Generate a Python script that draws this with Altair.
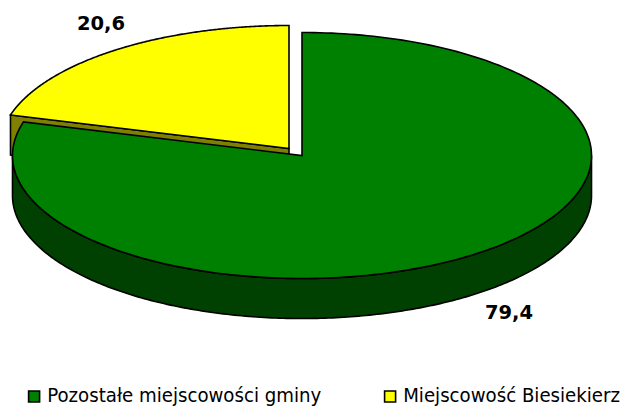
import math
import altair as alt

categories = ["Pozostałe miejscowości gminy", "Miejscowość Biesiekierz"]
values = [79.4, 20.6]
walls = ["Pozostałe ściana", "Biesiekierz ściana"]
colors = ["#008000", "#FFFF00"]
wall_colors = ["#004000", "#808000"]
label_texts = ["79,4", "20,6"]

# page offset of 8 px is removed from all geometry
CX, CY, RX, RY, DEPTH = 294, 147.5, 289.5, 123, 40
EXPLODE = (-13, -7)


def pt(t, cx, cy):
    return [cx + RX * math.sin(t), cy - RY * math.cos(t)]


def arc(t0, t1, cx, cy, n=240):
    return [pt(t0 + (t1 - t0) * i / n, cx, cy) for i in range(n + 1)]


def feature(part, ring):
    return {"type": "Feature", "properties": {"part": part},
            "geometry": {"type": "Polygon", "coordinates": [ring + [ring[0]]]}}


split = 2 * math.pi * values[0] / sum(values)
yx, yy = CX + EXPLODE[0], CY + EXPLODE[1]

green_top = arc(0, split, CX, CY) + [[CX, CY]]
yellow_top = arc(split, 2 * math.pi, yx, yy) + [[yx, yy]]
green_rim = arc(math.pi / 2, 1.5 * math.pi, CX, CY)
green_wall = green_rim + [[x, y + DEPTH] for x, y in reversed(green_rim)]
e = pt(split, yx, yy)
yellow_wall = [e, [yx, yy], [yx, yy + DEPTH], [e[0], e[1] + DEPTH]]

features = [
    feature(walls[1], yellow_wall),
    feature(categories[1], yellow_top),
    feature(walls[0], green_wall),
    feature(categories[0], green_top),
]

pie = alt.Chart(alt.Data(values=features)).mark_geoshape(
    stroke="black", strokeWidth=1.6, strokeJoin="miter"
).encode(
    fill=alt.Fill(
        "properties.part:N",
        scale=alt.Scale(domain=categories + walls, range=colors + wall_colors),
        legend=alt.Legend(
            values=categories, title=None, orient="none", legendX=16, legendY=378,
            columns=2, columnPadding=58, symbolType="square", symbolSize=121,
            symbolStrokeColor="black", symbolStrokeWidth=1.6, symbolOpacity=1,
            labelFont="DejaVu Sans Condensed", labelFontSize=20.2, labelColor="black",
            labelLimit=400, labelOffset=3, padding=0, rowPadding=0,
        ),
    )
).project(type="identity", scale=1, translate=[0, 0])

labels = alt.Chart(alt.Data(values=[
    {"t": label_texts[0], "px": 501, "py": 304.5},
    {"t": label_texts[1], "px": 93, "py": 16},
])).mark_text(font="DejaVu Sans", fontWeight="bold", fontSize=19.5, color="black").encode(
    x=alt.X("px:Q", scale=None), y=alt.Y("py:Q", scale=None), text="t:N"
)

chart = alt.layer(pie, labels).properties(
    width=612, height=402, padding=0, autosize=alt.AutoSizeParams(type="none")
).configure_view(stroke=None)

chart.save("out.html", embed_options={"renderer": "svg", "actions": False})
